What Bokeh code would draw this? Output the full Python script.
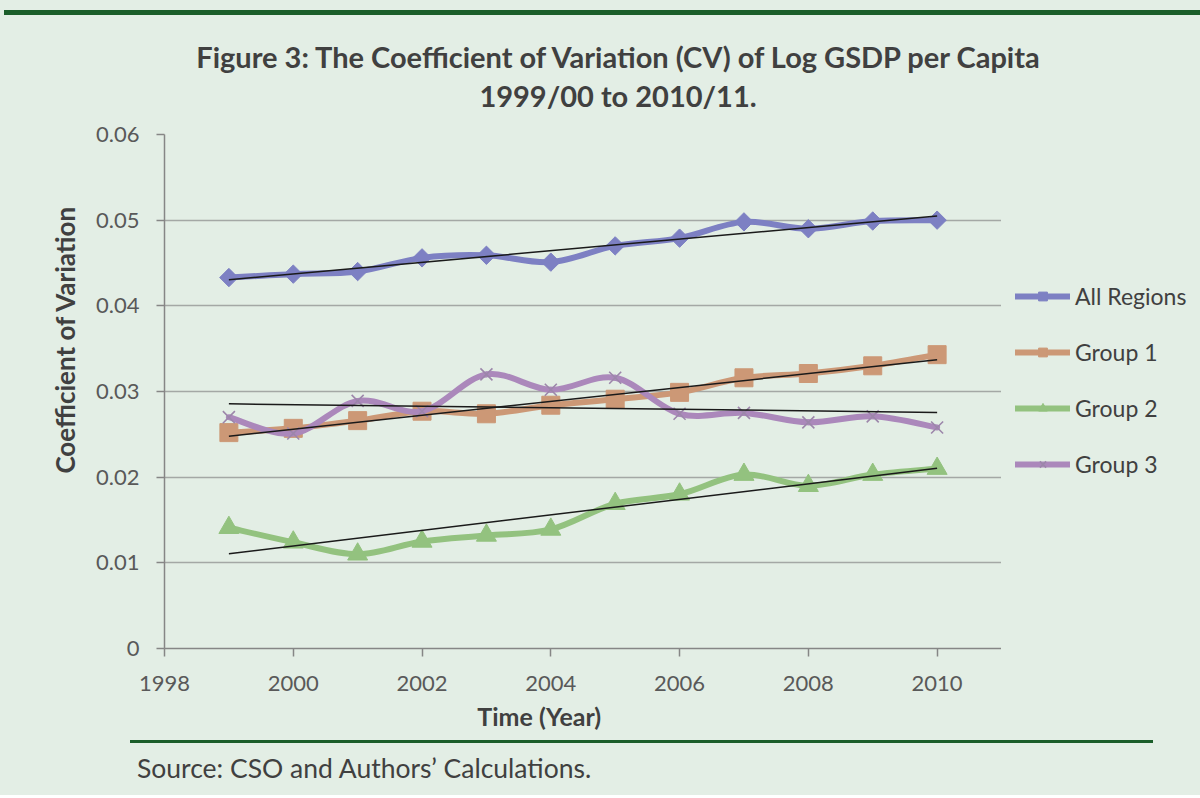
import numpy as np
from bokeh.plotting import figure
from bokeh.layouts import column, row
from bokeh.models import Range1d, FixedTicker, Legend, LegendItem, Div
from bokeh.embed import file_html
from bokeh.resources import INLINE

# ---------------- data ----------------
years = [1999, 2000, 2001, 2002, 2003, 2004, 2005, 2006, 2007, 2008, 2009, 2010]
all_regions = [0.0433, 0.0437, 0.0440, 0.0456, 0.0459, 0.0451, 0.0470, 0.0479, 0.0498, 0.0490, 0.0499, 0.0500]
group1 = [0.0252, 0.0257, 0.0266, 0.0277, 0.0274, 0.0284, 0.0291, 0.0299, 0.0316, 0.0321, 0.0330, 0.0343]
group2 = [0.0141, 0.0124, 0.0110, 0.0125, 0.0132, 0.0139, 0.0169, 0.0180, 0.0203, 0.0190, 0.0203, 0.0210]
group3 = [0.0270, 0.0251, 0.0289, 0.0277, 0.0320, 0.0302, 0.0316, 0.0274, 0.0275, 0.0264, 0.0271, 0.0258]
series_names = ["All Regions", "Group 1", "Group 2", "Group 3"]
x_ticks = [1998, 2000, 2002, 2004, 2006, 2008, 2010]
y_ticks = [0, 0.01, 0.02, 0.03, 0.04, 0.05, 0.06]
y_tick_labels = ["0", "0.01", "0.02", "0.03", "0.04", "0.05", "0.06"]

title_1 = "Figure 3: The Coefficient of Variation (CV) of Log GSDP per Capita"
title_2 = "1999/00 to 2010/11."
x_title = "Time (Year)"
y_title = "Coefficient of Variation"
source_text = "Source: CSO and Authors\u2019 Calculations."

# ---------------- styles ----------------
BG = "#e3eee5"
DARK_GREEN = "#1b5e2a"
TEXT = "#404040"
TICK_TEXT = "#595959"
FONT = "Lato"
EN = "\u2002"  # en spaces nudge the axis titles off-centre, as in the original
colors = ["#7d80c3", "#cc9876", "#93c27f", "#ab88bb"]
markers = [dict(marker="square", angle=np.pi / 4, size=13),
           dict(marker="square", angle=0, size=18),
           dict(marker="triangle", angle=0, size=20),
           dict(marker="x", angle=0, size=17)]
series = [all_regions, group1, group2, group3]

# ---------------- main chart ----------------
p = figure(width=1001, height=626, output_backend="svg", toolbar_location=None,
           x_range=Range1d(1998, 2011), y_range=Range1d(0, 0.06),
           min_border_left=164, min_border_right=0, min_border_top=20, min_border_bottom=92)
p.background_fill_color = BG
p.border_fill_color = BG
p.outline_line_color = None

for ax in (p.xaxis[0], p.yaxis[0]):
    ax.axis_line_color = "#868686"
    ax.axis_line_width = 1.5
    ax.major_tick_line_color = "#868686"
    ax.major_tick_line_width = 1.5
    ax.major_tick_in = 0
    ax.major_tick_out = 8
    ax.minor_tick_line_color = None
    ax.major_label_text_font = FONT
    ax.major_label_text_font_size = "22px"
    ax.major_label_text_color = TICK_TEXT
    ax.axis_label_text_font = FONT
    ax.axis_label_text_font_style = "bold"
    ax.axis_label_text_color = TEXT

p.xaxis.ticker = FixedTicker(ticks=x_ticks)
p.xaxis.major_label_standoff = 19
p.xaxis.axis_label = x_title + EN * 7
p.xaxis.axis_label_text_font_size = "25px"
p.xaxis.axis_label_standoff = 7
p.yaxis.ticker = FixedTicker(ticks=y_ticks)
p.yaxis.major_label_overrides = {t: l for t, l in zip(y_ticks, y_tick_labels)}
p.yaxis.major_label_standoff = 17
p.yaxis.axis_label = EN * 8 + y_title
p.yaxis.axis_label_text_font_size = "26px"
p.yaxis.axis_label_standoff = 12

p.xgrid.grid_line_color = None
p.ygrid.grid_line_color = "#a4a8a5"
p.ygrid.grid_line_width = 1.5


def smooth_segments(xs, ys):
    x = np.asarray(xs, float)
    y = np.asarray(ys, float)
    n = len(x)
    xp = np.concatenate([[x[0]], x, [x[-1]]])
    yp = np.concatenate([[y[0]], y, [y[-1]]])
    return dict(
        x0=x[:-1], y0=y[:-1], x1=x[1:], y1=y[1:],
        cx0=x[:-1] + (xp[2:n + 1] - xp[0:n - 1]) / 6.0,
        cy0=y[:-1] + (yp[2:n + 1] - yp[0:n - 1]) / 6.0,
        cx1=x[1:] - (xp[3:n + 2] - xp[1:n]) / 6.0,
        cy1=y[1:] - (yp[3:n + 2] - yp[1:n]) / 6.0,
    )


def draw_series(fig, vals, col, mk):
    seg = smooth_segments(years, vals)
    r_line = fig.bezier(**seg, line_color=col, line_width=6, line_cap="round")
    if mk["marker"] == "x":
        r_mk = fig.scatter(years, vals, marker="x", size=mk["size"], line_color="#9c86aa", line_width=1.6)
    else:
        r_mk = fig.scatter(years, vals, marker=mk["marker"], angle=mk["angle"], size=mk["size"],
                           fill_color=col, line_color=col)
    return r_line, r_mk


for vals, col, mk in zip(series, colors, markers):
    draw_series(p, vals, col, mk)

# linear trend lines
for vals in series:
    b1, b0 = np.polyfit(years, vals, 1)
    ends = [years[0], years[-1]]
    p.line(ends, [b0 + b1 * e for e in ends], line_color="#1a1a1a", line_width=1.5)

# ---------------- legend panel (same series, drawn outside its view) ----------------
pl = figure(width=199, height=626, output_backend="svg", toolbar_location=None,
            x_range=Range1d(0, 1), y_range=Range1d(0, 1), x_axis_type=None, y_axis_type=None,
            min_border_left=0, min_border_right=0, min_border_top=0, min_border_bottom=0)
pl.background_fill_color = BG
pl.border_fill_color = BG
pl.outline_line_color = None
legend_items = []
for name, vals, col, mk in zip(series_names, series, colors, markers):
    r_line, r_mk = draw_series(pl, vals, col, mk)
    legend_items.append(LegendItem(label=name, renderers=[r_line, r_mk]))

legend = Legend(items=legend_items, location=(14, 170), orientation="vertical",
                background_fill_alpha=0, border_line_color=None,
                padding=0, margin=0, spacing=28, glyph_width=55, glyph_height=22,
                label_height=22, label_standoff=5,
                label_text_font=FONT, label_text_font_size="23px", label_text_color=TEXT)
pl.add_layout(legend, "center")

# ---------------- page furniture ----------------
top_rule = Div(text="", width=1196, height=5, margin=(10, 0, 0, 4),
               styles={"background-color": DARK_GREEN})
title_style = {"font-family": FONT, "font-size": "29px", "font-weight": "bold", "color": TEXT,
               "line-height": "36px", "text-align": "center", "white-space": "nowrap"}
t1 = Div(text=title_1, width=1036, height=36, margin=(24, 0, 0, 100), styles=title_style)
t2 = Div(text=title_2, width=1036, height=36, margin=(3, 0, 0, 100), styles=title_style)
bottom_rule = Div(text="", width=1023, height=3, margin=(0, 0, 0, 130),
                  styles={"background-color": DARK_GREEN})
source = Div(text=source_text, width=900, height=30, margin=(10, 0, 12, 137),
             styles={"font-family": FONT, "font-size": "26.5px", "color": TEXT,
                     "line-height": "30px", "white-space": "nowrap"})

layout = column(top_rule, t1, t2, row(p, pl, spacing=0), bottom_rule, source,
                spacing=0, width=1200, styles={"background-color": BG})

open("out.html", "w").write(file_html(layout, INLINE))
